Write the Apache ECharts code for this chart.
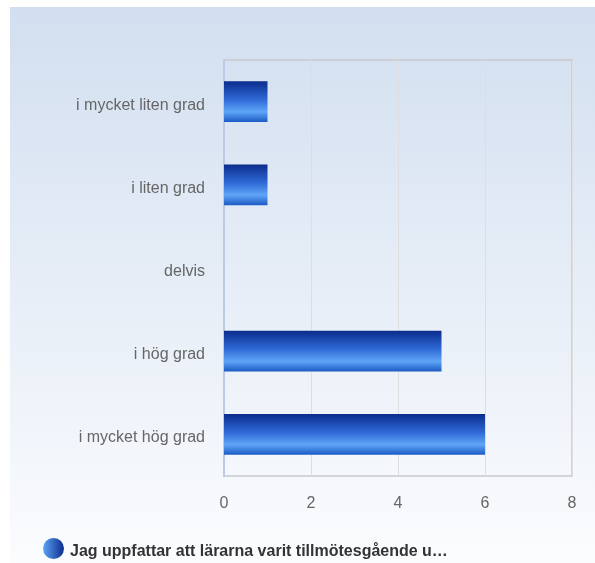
<!DOCTYPE html>
<html>
<head>
<meta charset="utf-8">
<script src="https://cdn.jsdelivr.net/npm/echarts@6/dist/echarts.min.js"></script>
<style>
  html, body { margin: 0; padding: 0; background: #fff; }
  #chart { width: 595px; height: 563px; }
</style>
</head>
<body>
<div id="chart"></div>
<script>
// Categories, bottom to top as drawn on the y axis
const categories = ['i mycket hög grad', 'i hög grad', 'delvis', 'i liten grad', 'i mycket liten grad']
const counts = [6, 5, 0, 1, 1]
const seriesName = 'Jag uppfattar att lärarna varit tillmötesgående u…'
const xTicks = { min: 0, max: 8, interval: 2 }

const chart = echarts.init(document.getElementById('chart'))

const fontFamily = '"Liberation Sans", Arial, sans-serif'

// Bar fill: dark navy top, light blue band, mid blue bottom
const barFill = new echarts.graphic.LinearGradient(0, 0, 0, 1, [
  { offset: 0, color: '#0b2c8c' },
  { offset: 0.45, color: '#2f69d6' },
  { offset: 0.75, color: '#5ea5f7' },
  { offset: 1, color: '#1c5ac4' }
])

const option = {
  animation: false,
  graphic: [
    {
      type: 'rect',
      z: -10,
      silent: true,
      shape: { x: 10, y: 7, width: 585, height: 556 },
      style: {
        fill: new echarts.graphic.LinearGradient(0, 0, 0, 1, [
          { offset: 0, color: '#d2dff0' },
          { offset: 1, color: '#fbfcfe' }
        ])
      }
    }
  ],
  grid: {
    left: 224,
    right: 23,
    top: 60,
    bottom: 87,
    show: true,
    borderColor: '#c9c9c9',
    borderWidth: 1.5,
    backgroundColor: 'transparent'
  },
  legend: {
    left: 43,
    top: 538,
    padding: 0,
    itemWidth: 23,
    itemHeight: 21,
    itemGap: 8,
    icon: 'circle',
    data: [{
      name: seriesName,
      itemStyle: {
        color: new echarts.graphic.LinearGradient(0, 0, 1, 0, [
          { offset: 0, color: '#5ea5f7' },
          { offset: 1, color: '#0b2c8c' }
        ]),
        borderWidth: 0
      }
    }],
    textStyle: {
      color: '#333',
      fontFamily: fontFamily,
      fontSize: 16,
      fontWeight: 'bold',
      rich: {
        t: { fontFamily: fontFamily, fontSize: 16, fontWeight: 'bold', color: '#333', padding: [6, 0, 0, 0] }
      }
    },
    formatter: name => '{t|' + name + '}'
  },
  xAxis: {
    type: 'value',
    min: xTicks.min,
    max: xTicks.max,
    interval: xTicks.interval,
    axisLine: { show: false },
    axisTick: { show: false },
    splitLine: { show: true, lineStyle: { color: '#dedede', width: 1 } },
    axisLabel: {
      color: '#666',
      fontFamily: fontFamily,
      fontSize: 16,
      margin: 20
    }
  },
  yAxis: {
    type: 'category',
    data: categories,
    axisLine: { show: true, lineStyle: { color: '#bccbe3', width: 2 } },
    axisTick: { show: false },
    splitLine: { show: false },
    axisLabel: {
      margin: 19,
      formatter: v => '{c|' + v + '}',
      rich: {
        c: { color: '#666', fontFamily: fontFamily, fontSize: 16, padding: [7, 0, 0, 0] }
      }
    }
  },
  series: [
    {
      name: seriesName,
      type: 'bar',
      data: counts,
      barWidth: '49%',
      itemStyle: {
        color: barFill,
        borderWidth: 0
      }
    }
  ]
}

chart.setOption(option)
</script>
</body>
</html>
